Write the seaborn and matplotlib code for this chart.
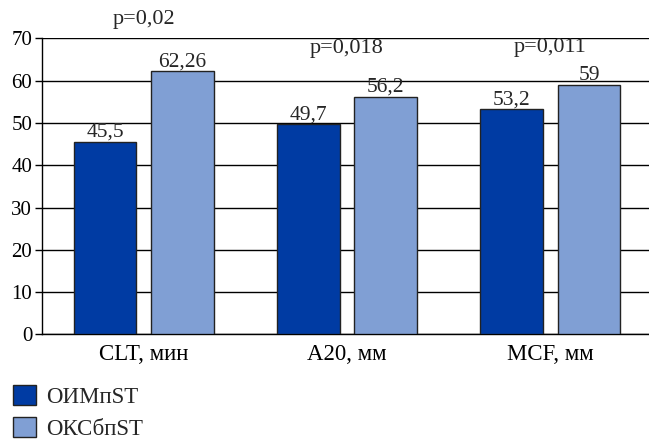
import pandas as pd
import matplotlib
matplotlib.use("Agg")
import matplotlib.pyplot as plt
import seaborn as sns

# === DATA ===
categories = ["CLT, мин", "A20, мм", "MCF, мм"]
groups = ["ОИМпST", "ОКСбпST"]
oim_values = [45.5, 49.7, 53.2]
oks_values = [62.26, 56.2, 59]
oim_labels = ["45,5", "49,7", "53,2"]
oks_labels = ["62,26", "56,2", "59"]
p_labels = ["p=0,02", "p=0,018", "p=0,011"]
p_heights = [74.5, 67.7, 67.8]
y_ticks = [0, 10, 20, 30, 40, 50, 60, 70]

colors = ["#003BA3", "#809FD4"]

df = pd.DataFrame({
    "category": categories * 2,
    "group": [groups[0]] * 3 + [groups[1]] * 3,
    "value": oim_values + oks_values,
})

# === STYLE ===
sns.set_theme(style="white")
plt.rcParams["font.family"] = ["Liberation Serif", "DejaVu Serif"]
plt.rcParams["font.size"] = 15.5

fig = plt.figure(figsize=(6.49, 4.42), dpi=100)
ax = fig.add_axes([0.0647, 0.2434, 0.9400, 0.6699])

sns.barplot(data=df, x="category", y="value", hue="group", palette=colors,
            width=0.76, gap=0.19, edgecolor="#222222", linewidth=1,
            saturation=1, ax=ax, zorder=3, legend=True)

ax.set_ylim(0, 70)
ax.set_xlim(-0.5, 2.5)
ax.set_yticks(y_ticks)
ax.set_xlabel("")
ax.set_ylabel("")
ax.yaxis.grid(True, color="black", linewidth=1)
ax.set_axisbelow(True)
for side in ["top", "right"]:
    ax.spines[side].set_visible(False)
for side in ["left", "bottom"]:
    ax.spines[side].set_color("black")
    ax.spines[side].set_linewidth(1)
ax.tick_params(axis="y", left=True, length=5, width=1, color="black",
               labelsize=15, pad=2, labelcolor="black")
ax.tick_params(axis="x", bottom=False, labelsize=16.5, pad=1, labelcolor="black")

# value labels
ax.bar_label(ax.containers[0], labels=oim_labels, padding=0, fontsize=15.5)
ax.bar_label(ax.containers[1], labels=oks_labels, padding=0, fontsize=15.5)

# p values
for i, (txt, h) in enumerate(zip(p_labels, p_heights)):
    ax.text(i, h, txt, ha="center", va="center", fontsize=16, clip_on=False)

# legend under the chart
handles, labels = ax.get_legend_handles_labels()
ax.get_legend().remove()
fig.legend(handles, labels, loc="lower left", bbox_to_anchor=(0.006, -0.016),
           frameon=False, fontsize=16.5, handlelength=1.0, handleheight=0.95,
           handletextpad=0.45, labelspacing=0.4, borderaxespad=0)

fig.savefig("out.png", dpi=100)
